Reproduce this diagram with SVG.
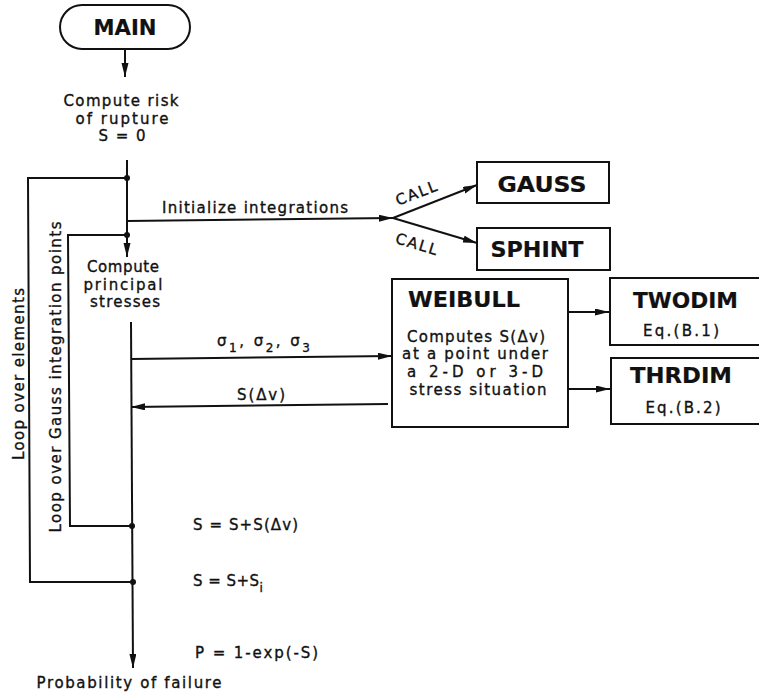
<svg xmlns="http://www.w3.org/2000/svg" width="759" height="700" viewBox="0 0 759 700">
<style>
text{font-family:"DejaVu Sans","Liberation Sans",sans-serif;fill:#111;font-size:15px;stroke:#111;stroke-width:0.35}
.b{font-weight:bold;font-size:22px;stroke-width:0.2}
.c{text-anchor:middle}
.box{fill:#fff;stroke:#111;stroke-width:2}
.ln{fill:none;stroke:#111;stroke-width:2}
.dot{fill:#111}
</style>
<defs>
<marker id="ah" markerUnits="userSpaceOnUse" markerWidth="15" markerHeight="8" refX="14" refY="3.5" orient="auto">
<path d="M0,0 L14,3.5 L0,7 z" fill="#111"/>
</marker>
</defs>
<rect width="759" height="700" fill="#fff"/>

<g id="connectors">
<line class="ln" x1="125" y1="49" x2="125" y2="77" marker-end="url(#ah)"/>
<line class="ln" x1="127" y1="160" x2="127" y2="257" marker-end="url(#ah)"/>
<polyline class="ln" points="127,178 28,178 30,582 133,582"/>
<polyline class="ln" points="127,235 68,235 70,526 132,526"/>
<line class="ln" x1="127" y1="221" x2="393" y2="218" marker-end="url(#ah)"/>
<line class="ln" x1="393" y1="218" x2="477" y2="185" marker-end="url(#ah)"/>
<line class="ln" x1="393" y1="218" x2="477" y2="243" marker-end="url(#ah)"/>
<line class="ln" x1="131" y1="322" x2="133" y2="668" marker-end="url(#ah)"/>
<line class="ln" x1="131" y1="359" x2="392" y2="356" marker-end="url(#ah)"/>
<line class="ln" x1="388" y1="404" x2="131" y2="407" marker-end="url(#ah)"/>
<line class="ln" x1="568" y1="312" x2="609" y2="312" marker-end="url(#ah)"/>
<line class="ln" x1="568" y1="389" x2="610" y2="389" marker-end="url(#ah)"/>
<circle class="dot" cx="127" cy="178" r="3"/>
<circle class="dot" cx="127" cy="235" r="3"/>
<circle class="dot" cx="132" cy="526" r="3"/>
<circle class="dot" cx="133" cy="582" r="3"/>
<text transform="translate(418,198) rotate(-21)" class="c" font-size="13" textLength="43" lengthAdjust="spacing">CALL</text>
<text transform="translate(415,249) rotate(17)" class="c" font-size="13" textLength="43" lengthAdjust="spacing">CALL</text>
<text x="255" y="213" class="c" textLength="186" lengthAdjust="spacing">Initialize integrations</text>
<text x="217" y="346" textLength="93" lengthAdjust="spacing">σ<tspan dy="6" font-size="12">1</tspan><tspan dy="-6">,  σ</tspan><tspan dy="6" font-size="12">2</tspan><tspan dy="-6">,  σ</tspan><tspan dy="6" font-size="12">3</tspan></text>
<text x="261" y="400" class="c" textLength="48" lengthAdjust="spacing">S(Δv)</text>
<text transform="translate(24,374) rotate(-90)" class="c" font-size="15" textLength="172" lengthAdjust="spacing">Loop over elements</text>
<text transform="translate(61,377) rotate(-90)" class="c" font-size="15" textLength="311" lengthAdjust="spacing">Loop over Gauss integration points</text>
</g>

<g id="main">
<rect class="box" x="60" y="5" width="130" height="44" rx="22"/>
<text x="125" y="35" class="b c" textLength="63" lengthAdjust="spacingAndGlyphs">MAIN</text>
</g>

<g id="compute-risk">
<text x="121" y="106" class="c" textLength="115" lengthAdjust="spacing">Compute risk</text>
<text x="122" y="124" class="c" textLength="93" lengthAdjust="spacing">of rupture</text>
<text x="122" y="141" class="c" textLength="47" lengthAdjust="spacing">S = 0</text>
</g>

<g id="compute-principal">
<text x="123" y="272" class="c" textLength="72" lengthAdjust="spacing">Compute</text>
<text x="123" y="290" class="c" textLength="79" lengthAdjust="spacing">principal</text>
<text x="125" y="307" class="c" textLength="70" lengthAdjust="spacing">stresses</text>
</g>

<g id="gauss">
<rect class="box" x="477" y="162" width="132" height="41"/>
<text x="542" y="192" class="b c" textLength="89" lengthAdjust="spacingAndGlyphs">GAUSS</text>
</g>

<g id="sphint">
<rect class="box" x="477" y="228" width="133" height="42"/>
<text x="537" y="257" class="b c" textLength="93" lengthAdjust="spacingAndGlyphs">SPHINT</text>
</g>

<g id="weibull">
<rect class="box" x="392" y="279" width="176" height="148"/>
<text x="408" y="307" class="b" font-size="21" textLength="112" lengthAdjust="spacingAndGlyphs">WEIBULL</text>
<text x="476" y="342" class="c" textLength="138" lengthAdjust="spacing">Computes S(Δv)</text>
<text x="475" y="359" class="c" textLength="146" lengthAdjust="spacing">at a point under</text>
<text x="475" y="377" class="c" textLength="136" lengthAdjust="spacing">a 2-D  or  3-D</text>
<text x="478" y="395" class="c" textLength="137" lengthAdjust="spacing">stress situation</text>
</g>

<g id="twodim">
<rect class="box" x="610" y="278" width="152" height="67"/>
<text x="633" y="308" class="b" textLength="105" lengthAdjust="spacingAndGlyphs">TWODIM</text>
<text x="681" y="336" class="c" textLength="76" lengthAdjust="spacing">Eq.(B.1)</text>
</g>

<g id="thrdim">
<rect class="box" x="611" y="358" width="152" height="66"/>
<text x="630" y="383" class="b" textLength="102" lengthAdjust="spacingAndGlyphs">THRDIM</text>
<text x="683" y="413" class="c" textLength="75" lengthAdjust="spacing">Eq.(B.2)</text>
</g>

<g id="sums">
<text x="193" y="530" textLength="105" lengthAdjust="spacing">S  =  S+S(Δv)</text>
<text x="193" y="586"><tspan textLength="66" lengthAdjust="spacing">S  =  S+S</tspan><tspan dy="6" font-size="12">i</tspan></text>
<text x="195" y="658" textLength="123" lengthAdjust="spacing">P  =  1-exp(-S)</text>
</g>

<g id="probability">
<text x="129" y="688" class="c" textLength="185" lengthAdjust="spacing">Probability of failure</text>
</g>
</svg>
